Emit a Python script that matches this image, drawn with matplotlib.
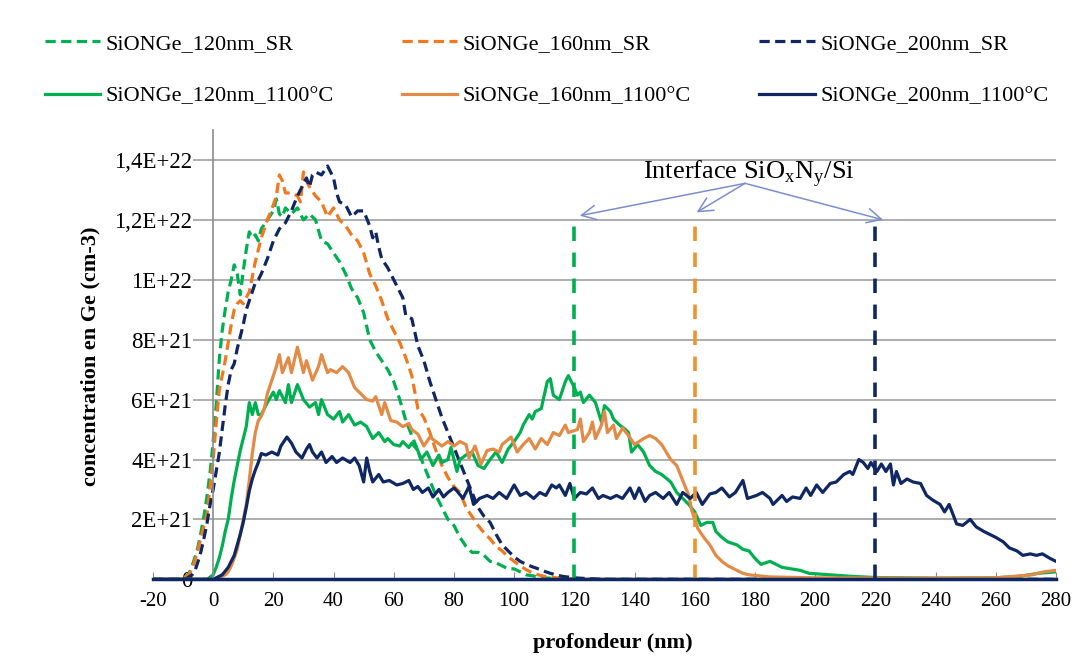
import numpy as np
import matplotlib
matplotlib.use("Agg")
from matplotlib import pyplot as plt

plt.rcParams["font.family"] = ["Liberation Serif", "DejaVu Serif"]
plt.rcParams["mathtext.fontset"] = "custom"
plt.rcParams["mathtext.rm"] = "Liberation Serif"

# Ge concentration profiles, (depth nm, concentration in 1E+21 cm-3)
green_sr = [(-20, 0), (-12, 0), (-10, 0.05), (-9, 0.08), (-8, 0.2), (-7, 0.45), (-6, 0.75), (-5, 1.1),
            (-4, 1.6), (-3, 2.15), (-2, 2.8), (-1, 3.6), (0, 4.6), (1, 5.8), (2, 7.3), (3, 8.3), (4, 9.0),
            (5, 9.6), (6, 10.0), (7, 10.5), (8, 10.2), (9, 9.5), (10, 10.3), (11, 11.0), (12, 11.6),
            (13, 11.4), (14, 11.5), (15, 11.3), (16, 11.7), (18, 12.0), (20, 12.3), (21, 12.7), (22, 12.2),
            (23, 12.1), (24, 12.4), (26, 12.2), (28, 12.4), (30, 12.0), (32, 12.2), (34, 12.0), (36, 11.3),
            (38, 11.2), (40, 10.9), (42, 10.6), (44, 10.2), (46, 9.7), (48, 9.4), (50, 8.9), (52, 8.0),
            (54, 7.6), (56, 7.3), (58, 7.0), (60, 6.6), (62, 6.0), (64, 5.3), (66, 4.8), (68, 4.3), (70, 3.8),
            (72, 3.3), (74, 2.8), (76, 2.4), (78, 2.0), (80, 1.8), (82, 1.4), (84, 1.1), (86, 0.9), (88, 0.9),
            (90, 0.8), (92, 0.6), (94, 0.55), (96, 0.45), (98, 0.35), (100, 0.35), (102, 0.25), (104, 0.15),
            (106, 0.12), (108, 0.08), (110, 0.05), (115, 0.02), (120, 0), (280, 0)]

orange_sr = [(-20, 0), (-12, 0), (-10, 0.05), (-8, 0.15), (-7, 0.35), (-6, 0.65), (-5, 1.0), (-4, 1.4),
             (-3, 1.8), (-2, 2.2), (-1, 3.1), (0, 4.0), (1, 5.2), (2, 6.3), (3, 6.8), (4, 7.3), (5, 7.9),
             (6, 8.5), (7, 9.0), (8, 9.2), (9, 9.3), (10, 9.2), (11, 9.4), (12, 9.6), (13, 10.1), (14, 10.6),
             (15, 11.0), (16, 11.4), (18, 12.0), (20, 12.5), (21, 12.8), (22, 13.5), (23, 13.3), (24, 12.9),
             (26, 12.9), (28, 12.8), (29, 12.6), (30, 13.6), (31, 13.3), (32, 13.1), (34, 12.8), (36, 12.6),
             (38, 12.1), (40, 12.4), (42, 12.0), (44, 11.8), (46, 11.5), (48, 11.3), (50, 10.9), (52, 10.2),
             (54, 9.8), (56, 9.3), (58, 8.7), (60, 8.3), (62, 7.9), (64, 7.4), (66, 6.8), (68, 5.7), (70, 5.4),
             (72, 4.9), (74, 4.3), (76, 3.8), (78, 3.4), (80, 3.1), (82, 2.9), (84, 2.4), (86, 2.1), (88, 1.8),
             (90, 1.55), (92, 1.35), (94, 1.1), (96, 0.95), (98, 0.75), (100, 0.6), (102, 0.45), (104, 0.32),
             (106, 0.22), (108, 0.15), (110, 0.1), (114, 0.05), (120, 0.02), (125, 0), (280, 0)]

navy_sr = [(-20, 0), (-12, 0), (-9, 0.02), (-7, 0.15), (-6, 0.3), (-5, 0.6), (-4, 0.95), (-3, 1.4),
           (-2, 1.9), (-1, 2.5), (0, 3.0), (1, 3.6), (2, 4.2), (3, 5.0), (4, 5.8), (5, 6.5), (6, 7.0),
           (7, 7.2), (8, 7.7), (9, 8.1), (10, 8.5), (11, 9.0), (12, 9.3), (13, 9.6), (14, 9.9), (15, 10.0),
           (16, 10.2), (18, 10.7), (20, 11.3), (22, 11.7), (24, 11.9), (26, 12.3), (28, 12.8), (30, 13.2),
           (31, 13.4), (32, 13.1), (33, 13.5), (34, 13.6), (36, 13.5), (38, 13.8), (40, 13.4), (41, 12.9),
           (42, 12.6), (44, 12.5), (46, 12.1), (48, 12.3), (50, 12.3), (52, 11.8), (53, 11.4), (54, 11.6),
           (55, 11.1), (56, 10.7), (58, 10.4), (60, 10.0), (62, 9.6), (63, 9.4), (64, 8.8), (66, 8.7),
           (68, 7.8), (70, 7.3), (72, 6.6), (74, 6.0), (76, 5.4), (78, 4.9), (80, 4.4), (82, 3.9), (84, 3.4),
           (86, 2.9), (88, 2.4), (90, 2.1), (92, 1.9), (94, 1.5), (96, 1.15), (98, 0.95), (100, 0.75),
           (102, 0.6), (104, 0.5), (106, 0.42), (108, 0.35), (110, 0.27), (112, 0.2), (114, 0.15),
           (116, 0.1), (120, 0.05), (125, 0.02), (130, 0), (280, 0)]

green_1100 = [(-20, 0), (-2, 0), (0, 0.15), (1, 0.4), (2, 0.7), (3, 1.1), (4, 1.6), (5, 2.0), (6, 2.7),
              (7, 3.3), (8, 3.8), (9, 4.3), (10, 4.7), (11, 5.1), (12, 5.9), (13, 5.5), (14, 5.9), (15, 5.5),
              (16, 5.5), (18, 5.9), (20, 6.25), (21, 6.0), (22, 6.3), (24, 5.9), (25, 6.5), (26, 5.9),
              (28, 6.5), (30, 6.0), (32, 5.75), (34, 5.9), (35, 5.5), (36, 6.0), (38, 5.5), (40, 5.35),
              (42, 5.6), (43, 5.25), (45, 5.5), (47, 5.15), (49, 5.25), (51, 5.1), (53, 4.7), (55, 4.9),
              (57, 4.6), (58, 4.7), (60, 4.5), (62, 4.45), (63, 4.6), (65, 4.4), (66, 4.55), (68, 4.3),
              (69, 4.0), (71, 4.25), (73, 3.8), (75, 4.15), (76, 3.9), (78, 4.0), (79, 4.4), (81, 3.6),
              (82, 4.0), (84, 4.15), (86, 4.25), (88, 3.8), (90, 3.7), (92, 4.0), (94, 4.25), (96, 3.9),
              (98, 4.35), (100, 4.6), (102, 4.9), (103, 5.15), (105, 5.5), (106, 5.35), (107, 5.6), (109, 5.7),
              (111, 6.6), (112, 6.7), (113, 6.15), (115, 6.0), (117, 6.6), (118, 6.8), (120, 6.4), (121, 6.15),
              (122, 6.25), (123, 5.9), (125, 6.15), (127, 5.9), (129, 5.25), (130, 5.8), (132, 5.6),
              (133, 5.35), (135, 5.15), (137, 5.0), (138, 4.9), (139, 4.25), (141, 4.5), (143, 4.25),
              (145, 3.8), (147, 3.6), (149, 3.5), (152, 3.25), (154, 2.9), (156, 2.7), (158, 2.5), (160, 2.25),
              (162, 1.8), (164, 1.9), (166, 1.9), (167, 1.6), (169, 1.4), (171, 1.25), (174, 1.15), (176, 1.0),
              (178, 0.95), (180, 0.7), (182, 0.5), (185, 0.6), (189, 0.4), (192, 0.35), (195, 0.3), (198, 0.2),
              (205, 0.15), (212, 0.1), (220, 0.06), (240, 0.04), (260, 0.05), (268, 0.1), (274, 0.2),
              (280, 0.25)]

orange_1100 = [(-20, 0), (0, 0), (2, 0.05), (4, 0.15), (5, 0.25), (6, 0.45), (7, 0.7), (8, 1.0), (9, 1.5),
               (10, 2.0), (11, 2.5), (12, 3.3), (13, 4.2), (14, 4.9), (15, 5.3), (16, 5.45), (17, 5.7),
               (18, 6.2), (20, 6.8), (21, 7.1), (22, 7.5), (23, 6.9), (25, 7.4), (26, 6.9), (28, 7.75),
               (30, 6.9), (31, 7.3), (33, 6.65), (35, 7.1), (36, 7.5), (38, 6.9), (39, 7.0), (41, 6.9),
               (43, 7.1), (45, 6.9), (47, 6.4), (49, 6.2), (51, 6.0), (53, 5.95), (54, 6.1), (56, 5.5),
               (57, 5.9), (59, 5.3), (61, 5.25), (63, 5.1), (65, 5.2), (66, 5.0), (68, 4.85), (70, 4.45),
               (72, 4.75), (74, 4.6), (76, 4.45), (78, 4.6), (80, 4.45), (82, 4.6), (84, 4.5), (85, 4.05),
               (87, 4.45), (89, 3.85), (91, 4.3), (93, 4.35), (95, 4.25), (96, 4.5), (99, 4.75), (101, 4.25),
               (103, 4.5), (105, 4.7), (107, 4.35), (109, 4.7), (111, 4.5), (113, 4.9), (115, 4.8),
               (117, 5.15), (118, 4.9), (121, 5.0), (122, 5.35), (123, 4.6), (125, 4.9), (126, 5.25),
               (127, 4.7), (129, 5.15), (130, 5.6), (131, 4.9), (133, 5.15), (134, 4.7), (136, 5.05),
               (138, 4.8), (140, 4.5), (143, 4.7), (145, 4.8), (147, 4.7), (149, 4.5), (152, 4.0), (154, 3.8),
               (156, 3.3), (158, 2.8), (159, 2.3), (161, 1.7), (163, 1.4), (165, 1.15), (167, 0.8), (169, 0.6),
               (171, 0.45), (174, 0.3), (176, 0.2), (178, 0.15), (185, 0.08), (200, 0.05), (230, 0.04),
               (260, 0.05), (266, 0.1), (272, 0.15), (276, 0.25), (280, 0.3)]

navy_1100 = [(-20, 0), (0, 0), (1, 0.05), (3, 0.15), (5, 0.4), (7, 0.8), (8, 1.15), (9, 1.5), (10, 1.9),
             (11, 2.4), (12, 2.95), (13, 3.35), (14, 3.65), (15, 3.9), (16, 4.2), (17.5, 4.15), (19.5, 4.25),
             (21.5, 4.15), (22.5, 4.45), (24.5, 4.75), (26, 4.55), (27.5, 4.25), (29.5, 4.05), (31, 4.35),
             (32, 4.5), (33, 4.25), (34.5, 4.05), (36, 4.25), (37.5, 3.9), (39.5, 4.1), (41, 3.9), (43, 4.05),
             (45.5, 3.9), (47, 4.05), (48.5, 3.8), (50, 3.25), (51, 4.05), (52, 3.6), (53, 3.25), (55, 3.5),
             (56.5, 3.25), (58.5, 3.3), (61, 3.15), (63, 3.2), (65, 3.3), (66.5, 3.0), (68, 3.1), (69.5, 2.9),
             (71.5, 3.05), (73, 2.75), (75, 3.0), (76.5, 2.75), (78, 2.9), (80, 3.05), (81, 2.95), (83, 2.7),
             (85, 3.1), (86.5, 2.5), (88.5, 2.7), (91, 2.8), (93, 2.7), (95, 2.9), (97.5, 2.7), (100, 3.15),
             (102, 2.8), (104, 2.9), (106.5, 2.7), (108.5, 2.9), (110.5, 2.8), (112.5, 3.15), (114, 3.05),
             (115, 3.15), (117, 2.8), (118.5, 3.2), (120, 2.7), (122, 2.9), (124, 2.85), (126, 3.05),
             (128, 2.7), (129.5, 2.8), (132, 2.7), (134, 2.8), (136, 2.7), (138.5, 3.05), (140, 2.7),
             (141.5, 3.05), (143.5, 2.6), (145, 2.8), (147, 2.9), (149.5, 2.7), (151.5, 2.9), (154, 2.5),
             (156, 2.9), (158.5, 2.7), (160.5, 2.9), (162.5, 2.5), (165, 2.85), (167, 2.9), (169, 3.05),
             (171.5, 2.75), (173.5, 2.9), (176, 3.3), (177.5, 2.7), (180.5, 2.8), (182.5, 2.9), (185, 2.7),
             (186, 2.5), (189, 2.8), (190.5, 2.6), (192.5, 2.75), (195, 2.7), (197, 3.05), (198.5, 2.8),
             (200.5, 3.15), (202.5, 2.9), (205, 3.2), (207, 3.25), (209.5, 3.5), (211.5, 3.6), (212.5, 3.5),
             (214.5, 4.0), (216, 3.9), (217.5, 3.7), (218.5, 3.9), (220.5, 3.6), (222, 3.85), (223.5, 3.6),
             (225, 3.85), (226, 3.15), (227, 3.6), (228.5, 3.2), (230.5, 3.35), (232.5, 3.25), (235, 3.2),
             (237, 2.8), (239, 2.65), (241.5, 2.5), (243, 2.25), (244.5, 2.5), (247, 1.85), (249, 1.8),
             (251.5, 2.0), (253.5, 1.75), (256, 1.6), (258, 1.5), (260, 1.4), (262.5, 1.25), (264.5, 1.05),
             (267, 0.95), (269, 0.8), (271.5, 0.85), (273.5, 0.8), (275.5, 0.85), (278, 0.7), (280, 0.6)]

series_labels = ["SiONGe_120nm_SR", "SiONGe_120nm_1100°C", "SiONGe_160nm_SR",
                 "SiONGe_160nm_1100°C", "SiONGe_200nm_SR", "SiONGe_200nm_1100°C"]

interface_depths = [120, 160, 220]
interface_top = 12.0
arrow_tips = [(121.8, 12.14), (160.6, 12.25), (222.6, 12.0)]
arrow_origin = (176.7, 13.22)

ytick_values = [0, 2, 4, 6, 8, 10, 12, 14]
ytick_labels = ["0", "2E+21", "4E+21", "6E+21", "8E+21", "1E+22", "1,2E+22", "1,4E+22"]
xtick_values = list(range(-20, 281, 20))

green = "#00B050"
orange_dash = "#F0781E"
orange_solid = "#E28A46"
navy = "#0F2763"
scale = 1e21

fig = plt.figure(figsize=(10.91, 6.59), dpi=100)
ax = fig.add_axes([0.1402, 0.1209, 0.8277, 0.6818])

styles = [(green_sr, green, True), (green_1100, green, False),
          (orange_sr, orange_dash, True), (orange_1100, orange_solid, False),
          (navy_sr, navy, True), (navy_1100, navy, False)]
handles = [None] * 6
# draw dashed ones first, solid ones on top
for idx in [0, 2, 4, 1, 3, 5]:
    data, color, dashed = styles[idx]
    xs = np.array([p[0] for p in data])
    ys = np.array([p[1] for p in data]) * scale
    if dashed:
        line, = ax.plot(xs, ys, color=color, lw=2.3, dashes=(3.2, 1.7))
    else:
        line, = ax.plot(xs, ys, color=color, lw=2.3)
    handles[idx] = line

# interface markers
vcolors = [green, "#F0922E", navy]
for depth, col in zip(interface_depths, vcolors):
    ax.plot([depth, depth], [0, interface_top * scale], color=col, lw=2.6, dashes=(4, 3.2))

ax.text(178, 13.55 * scale, "Interface SiO$_\\mathrm{x}$N$_\\mathrm{y}$/Si", ha="center", va="center",
        fontsize=19)
for tip in arrow_tips:
    ax.annotate("", xy=(tip[0], tip[1] * scale), xytext=(arrow_origin[0], arrow_origin[1] * scale),
                arrowprops=dict(arrowstyle="->", color="#7B8FCC", lw=1.1, mutation_scale=26,
                                shrinkA=0, shrinkB=0))

ax.set_xlim(-20, 280)
ax.set_ylim(0, 1.5e22)
ax.set_xticks(xtick_values)
ax.set_xticklabels([str(v) for v in xtick_values])
ax.set_yticks([v * scale for v in ytick_values])
ax.set_yticklabels(ytick_labels)

ax.yaxis.grid(True, color="#A0A0A0", lw=1.2)
ax.xaxis.grid(False)
for s in ["top", "right"]:
    ax.spines[s].set_visible(False)
ax.spines["left"].set_position(("data", 0))
ax.spines["left"].set_color("#8C8C8C")
ax.spines["left"].set_linewidth(1.2)
ax.spines["bottom"].set_color(navy)
ax.spines["bottom"].set_linewidth(2.5)

ax.tick_params(axis="y", length=0, pad=15, labelsize=16.5)
ax.tick_params(axis="x", direction="in", length=5, color="#8C8C8C", pad=9, labelsize=15)
for lab in ax.get_yticklabels():
    lab.set_bbox(dict(facecolor="white", edgecolor="none", pad=0.5))

ax.set_xlabel("profondeur (nm)", fontsize=16, fontweight="bold")
ax.set_ylabel("concentration en Ge (cm-3)", fontsize=16, fontweight="bold")
ax.xaxis.set_label_coords(0.509, -0.12)
ax.yaxis.set_label_coords(-0.058, 0.497)

fig.legend(handles, series_labels, loc="upper left", bbox_to_anchor=(0.041, 0.949), ncol=3,
           frameon=False, fontsize=16, handlelength=2.5, handletextpad=0.25, columnspacing=3.05,
           labelspacing=1.43, borderpad=0, borderaxespad=0)

fig.savefig("out.png", dpi=100)
